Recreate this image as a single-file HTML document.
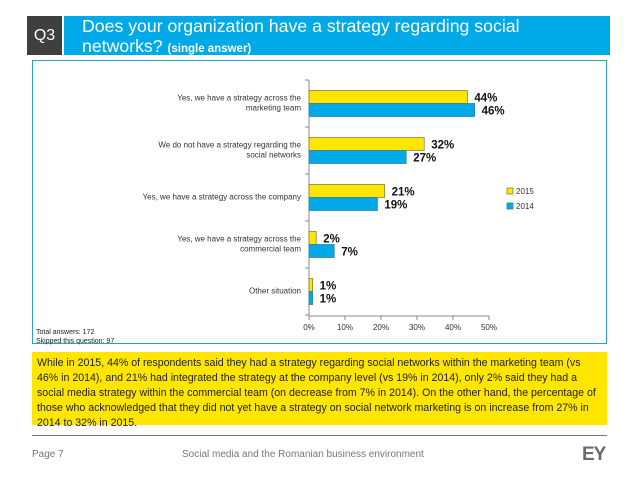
<!DOCTYPE html>
<html><head><meta charset="utf-8"><style>
body{margin:0;width:638px;height:479px;background:#fff;position:relative;font-family:"Liberation Sans",sans-serif;overflow:hidden}
.abs{position:absolute}
</style></head><body>
<div class="abs" style="left:27px;top:16px;width:35px;height:39px;background:#3f3f3f;color:#fff;font-size:16px;line-height:39px;text-align:center">Q3</div>
<div class="abs" style="left:64px;top:16px;width:546px;height:39px;background:#00a9e8;color:#fff">
<div style="position:absolute;left:18px;top:0px;font-size:17.7px;line-height:20px">Does your organization have a strategy regarding social<br>networks? <span style="font-size:11.5px;font-weight:bold">(single answer)</span></div></div>
<div class="abs" style="left:32px;top:60px;width:575px;height:284px;border:1px solid #2aa0c8;box-sizing:border-box"></div>
<svg class="abs" style="left:0;top:0" width="638" height="479">
<g id="chart"></g>
</svg>
<div class="abs" style="left:36px;top:328px;font-size:7px;line-height:9px;color:#222">Total answers: 172<br>Skipped this question: 97</div>
<div class="abs" style="left:32px;top:352px;width:575px;height:73px;background:#ffe600;box-sizing:border-box;padding:4px 5px;font-size:10.6px;line-height:15px;color:#222">While in 2015, 44% of respondents said they had a strategy regarding social networks within the marketing team (vs 46% in 2014), and 21% had integrated the strategy at the company level (vs 19% in 2014), only 2% said they had a social media strategy within the commercial team (on decrease from 7% in 2014). On the other hand, the percentage of those who acknowledged that they did not yet have a strategy on social network marketing is on increase from 27% in 2014 to 32% in 2015.</div>
<div class="abs" style="left:32px;top:435px;width:575px;height:1px;background:#777"></div>
<div class="abs" style="left:32px;top:449px;font-size:10px;color:#777">Page 7</div>
<div class="abs" style="left:182px;top:449px;font-size:10px;color:#777">Social media and the Romanian business environment</div>
<div class="abs" style="left:582px;top:444px;font-size:19px;font-weight:bold;color:#6a6a6a;letter-spacing:-1px">EY</div>
<script>
const categories=["Yes, we have a strategy across the|marketing team","We do not have a strategy regarding the|social networks","Yes, we have a strategy across the company","Yes, we have a strategy across the|commercial team","Other situation"];
const values2015=[44,32,21,2,1];
const values2014=[46,27,19,7,1];
const ticks=[0,10,20,30,40,50];
const NS="http://www.w3.org/2000/svg";
const g=document.getElementById('chart');
const x0=309,x1=489,yTop=80,yBot=316,gh=47;
const xs=v=>x0+(x1-x0)*v/50;
const yc=i=>yTop+gh*(i+0.5);
function mk(t,a){const e=document.createElementNS(NS,t);for(const k in a)e.setAttribute(k,a[k]);g.appendChild(e);return e;}
let ax=mk('line',{x1:x0,y1:yTop,x2:x0,y2:yBot,stroke:'#888'});


let bx=mk('line',{x1:x0,y1:yBot,x2:x1,y2:yBot,stroke:'#888'});


for(let i=0;i<=categories.length;i++){mk('line',{x1:x0-4,y1:yTop+gh*i,x2:x0,y2:yTop+gh*i,stroke:'#888'});}
ticks.forEach(t=>{
 mk('line',{x1:xs(t),y1:yBot,x2:xs(t),y2:yBot+4,stroke:'#888'});
 const tx=mk('text',{x:xs(t),y:yBot+14,'font-size':8,'text-anchor':'middle',fill:'#333'});tx.textContent=t+'%';
 
 
});
categories.forEach((c,i)=>{
 const c0=yc(i);
 const lines=c.split('|');
 lines.forEach((l,j)=>{const t=mk('text',{x:301,y:c0+3+(j-(lines.length-1)/2)*10-1,'font-size':8,'text-anchor':'end',fill:'#333'});t.textContent=l;
 
 });
 const r1=mk('rect',{x:x0,y:c0-13,width:xs(values2015[i])-x0,height:13,fill:'#ffe600',stroke:'#8a7f3a','stroke-width':0.8});
 
 
 const r2=mk('rect',{x:x0,y:c0,width:xs(values2014[i])-x0,height:13,fill:'#00a9e8',stroke:'#3a7fa0','stroke-width':0.8});
 
 
 const l1=mk('text',{x:xs(values2015[i])+7,y:c0-2,'font-size':11.5,'font-weight':'bold',fill:'#111'});l1.textContent=values2015[i]+'%';
 
 
 const l2=mk('text',{x:xs(values2014[i])+7,y:c0+11,'font-size':11.5,'font-weight':'bold',fill:'#111'});l2.textContent=values2014[i]+'%';
 
 
});
[['2015','#ffe600','#8a7f3a',194],['2014','#00a9e8','#3a7fa0',209]].forEach(d=>{
 const r=mk('rect',{x:507,y:d[3]-6,width:6,height:6,fill:d[1],stroke:d[2],'stroke-width':0.8});
 
 
 const t=mk('text',{x:516,y:d[3],'font-size':8,fill:'#333'});t.textContent=d[0];
 
 
});
</script>
</body></html>
